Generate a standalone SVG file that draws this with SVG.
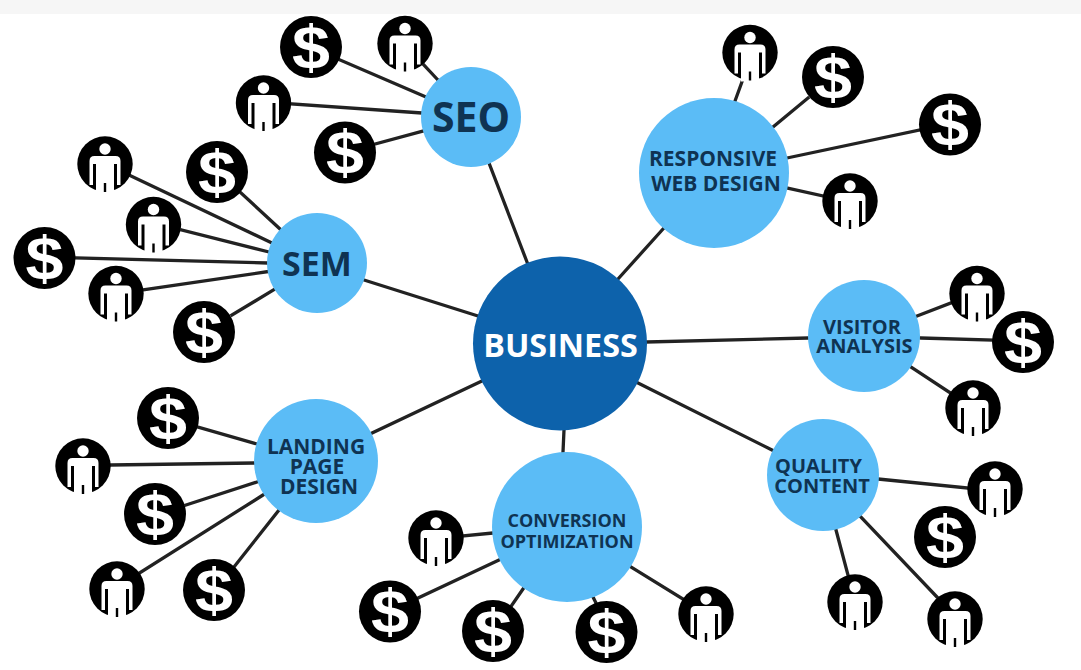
<svg xmlns="http://www.w3.org/2000/svg" width="1081" height="670" viewBox="0 0 1081 670">
<style>
.l{stroke:#222;stroke-width:3.3;fill:none;stroke-linecap:square}
.hub{fill:#5bbcf6}
.t{font-family:"Open Sans","Noto Sans",sans-serif;font-weight:700;fill:#0f3352;text-anchor:middle}
.d{font-family:"Liberation Sans",Arial,sans-serif;font-weight:700;font-size:61px;fill:#fff;text-anchor:middle}
</style>
<defs>
<symbol id="person" overflow="visible">
<circle r="27.700" fill="#000"/>
<circle cy="-15" r="5.700" fill="#fff"/>
<path d="M-15.500 21V-3Q-15.500-8-10.500-8H10.500Q15.500-8 15.500-3V21H12V0H9V29H-9V0H-12V21Z" fill="#fff"/>
<rect x="-1.200" y="19" width="2.400" height="9" fill="#000"/>
</symbol>
</defs>
<rect width="1081" height="14" fill="#f6f6f6"/>
<g id="connectors">
<path class="l" d="M489 163L527 262M618 279L663 229M364 280L478 316M647 342L808 338M638 383L772 450M564 430L563 452M372 433L482 381"/>
<path class="l" d="M340 60L426 97M424 65L437 79M292 104L422 113M375 144L423 131"/>
<path class="l" d="M743 79L735 101M808 98L773 127M920 130L787 158M823 196L787 188"/>
<path class="l" d="M131 176L272 243M241 193L280 229M182 230L269 252M76 258L268 263M143 290L272 271M232 315L275 289"/>
<path class="l" d="M951 303L917 316M993 340L921 338M949 392L911 367"/>
<path class="l" d="M968 488L878 479M848 575L836 530M937 597L860 516"/>
<path class="l" d="M463 536L493 533M418 598L499 560M512 605L523 589M596 603L593 597M683 599L631 567"/>
<path class="l" d="M198 427L257 444M111 465L254 463M186 505L257 482M138 574L263 495M234 567L279 510"/>
</g>
<g id="business"><circle cx="560" cy="343.500" r="87" fill="#0d62ab"/><text x="560.500" y="357" font-size="32.300" class="t" style="fill:#fff">BUSINESS</text></g>
<g id="seo"><circle class="hub" cx="471" cy="117" r="50"/><text x="471" y="131.500" font-size="41" class="t">SEO</text></g>
<g id="responsive"><circle class="hub" cx="714" cy="173" r="75"/><text x="713" y="166" font-size="21" class="t">RESPONSIVE</text><text x="716" y="190.500" font-size="21" class="t">WEB DESIGN</text></g>
<g id="sem"><circle class="hub" cx="317" cy="263" r="50"/><text x="317" y="276" font-size="34" class="t">SEM</text></g>
<g id="visitor"><circle class="hub" cx="864" cy="336" r="56"/><text x="862" y="334" font-size="20" class="t">VISITOR</text><text x="864.500" y="353" font-size="20" class="t">ANALYSIS</text></g>
<g id="quality"><circle class="hub" cx="823" cy="475" r="56"/><text x="818.500" y="473" font-size="20" class="t">QUALITY</text><text x="822" y="493" font-size="20" class="t">CONTENT</text></g>
<g id="conversion"><circle class="hub" cx="567" cy="527" r="75"/><text x="567" y="527" font-size="18" class="t">CONVERSION</text><text x="567" y="548" font-size="18" class="t">OPTIMIZATION</text></g>
<g id="landing"><circle class="hub" cx="316" cy="461" r="62"/><text x="316" y="454" font-size="21" class="t">LANDING</text><text x="317" y="474" font-size="21" class="t">PAGE</text><text x="319" y="494" font-size="21" class="t">DESIGN</text></g>
<g id="d1"><circle cx="311" cy="47" r="31"/><text transform="translate(311 67.500) scale(1.120 1)" class="d">$</text></g>
<g id="d2"><circle cx="345" cy="152.500" r="31"/><text transform="translate(345 173) scale(1.120 1)" class="d">$</text></g>
<g id="d3"><circle cx="217" cy="172" r="31"/><text transform="translate(217 192.500) scale(1.120 1)" class="d">$</text></g>
<g id="d4"><circle cx="44.500" cy="258" r="31"/><text transform="translate(44.500 278.500) scale(1.120 1)" class="d">$</text></g>
<g id="d5"><circle cx="204" cy="332" r="31"/><text transform="translate(204 352.500) scale(1.120 1)" class="d">$</text></g>
<g id="d6"><circle cx="168" cy="418" r="31"/><text transform="translate(168 438.500) scale(1.120 1)" class="d">$</text></g>
<g id="d7"><circle cx="155" cy="514" r="31"/><text transform="translate(155 534.500) scale(1.120 1)" class="d">$</text></g>
<g id="d8"><circle cx="214" cy="590" r="31"/><text transform="translate(214 610.500) scale(1.120 1)" class="d">$</text></g>
<g id="d9"><circle cx="390" cy="611.500" r="31"/><text transform="translate(390 632) scale(1.120 1)" class="d">$</text></g>
<g id="d10"><circle cx="493" cy="631" r="31"/><text transform="translate(493 651.500) scale(1.120 1)" class="d">$</text></g>
<g id="d11"><circle cx="606.500" cy="632" r="31"/><text transform="translate(606.500 652.500) scale(1.120 1)" class="d">$</text></g>
<g id="d12"><circle cx="945" cy="537" r="31"/><text transform="translate(945 557.500) scale(1.120 1)" class="d">$</text></g>
<g id="d13"><circle cx="1023" cy="342" r="31"/><text transform="translate(1023 362.500) scale(1.120 1)" class="d">$</text></g>
<g id="d14"><circle cx="950" cy="124.500" r="31"/><text transform="translate(950 145) scale(1.120 1)" class="d">$</text></g>
<g id="d15"><circle cx="833" cy="77" r="31"/><text transform="translate(833 97.500) scale(1.120 1)" class="d">$</text></g>
<g id="p1"><use href="#person" x="405" y="43.500"/></g>
<g id="p2"><use href="#person" x="263.500" y="103"/></g>
<g id="p3"><use href="#person" x="105" y="164"/></g>
<g id="p4"><use href="#person" x="153.500" y="224.500"/></g>
<g id="p5"><use href="#person" x="116" y="293.500"/></g>
<g id="p6"><use href="#person" x="83" y="466"/></g>
<g id="p7"><use href="#person" x="117" y="589"/></g>
<g id="p8"><use href="#person" x="436" y="538"/></g>
<g id="p9"><use href="#person" x="706" y="614"/></g>
<g id="p10"><use href="#person" x="855" y="602"/></g>
<g id="p11"><use href="#person" x="955" y="619"/></g>
<g id="p12"><use href="#person" x="995" y="489"/></g>
<g id="p13"><use href="#person" x="973" y="408"/></g>
<g id="p14"><use href="#person" x="977" y="293.500"/></g>
<g id="p15"><use href="#person" x="850" y="201"/></g>
<g id="p16"><use href="#person" x="750" y="52.500"/></g>
</svg>
